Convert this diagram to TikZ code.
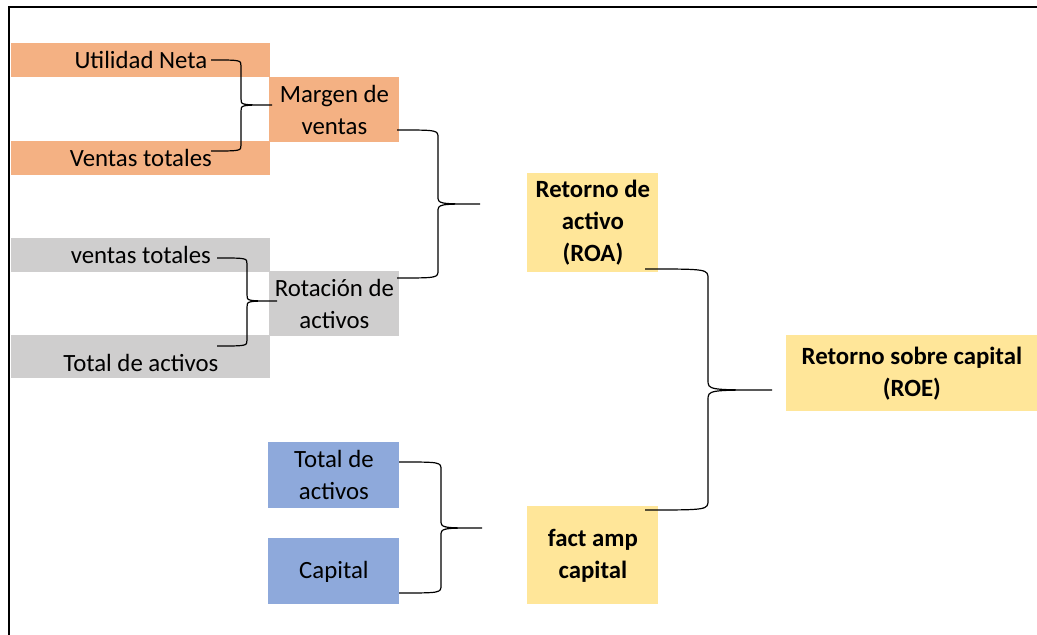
\documentclass[tikz,border=0pt]{standalone}
\usepackage{fontspec}
\setmainfont{Carlito}
\usetikzlibrary{calc}
\definecolor{boxorange}{HTML}{F4B183}
\definecolor{boxgrey}{HTML}{CFCECE}
\definecolor{boxblue}{HTML}{8EA9DB}
\definecolor{boxyellow}{HTML}{FFE699}

% curly bracket joining two items into one: [radius]{top end}{bottom end}{tip}{spine}
\newcommand\curlyjoin[5][8]{%
  \draw[conn] (#2) .. controls (#2 -| #5) .. ($(#2 -| #5)+(0,#1)$)
    -- ($(#4 -| #5)+(0,-#1)$) .. controls (#4 -| #5) .. (#4)
    .. controls (#4 -| #5) .. ($(#4 -| #5)+(0,#1)$)
    -- ($(#3 -| #5)+(0,-#1)$) .. controls (#3 -| #5) .. (#3);}

\begin{document}
\begin{tikzpicture}[x=0.5pt,y=-0.5pt,
  box/.style={anchor=north west, inner sep=0pt, align=center,
    font=\fontsize{12.4}{16}\selectfont},
  sz/.style 2 args={minimum width=#1*0.5pt, minimum height=#2*0.5pt},
  kpi/.style={box, fill=boxyellow, font=\fontsize{12.4}{16}\selectfont\bfseries},
  conn/.style={draw=black, line width=0.6pt},
  frame/.style={draw=black, line width=1pt}]
\useasboundingbox (0,0) rectangle (1037,635);
\fill[white] (0,0) rectangle (1037,635);

% outer frame (top and left edges)
\draw[frame] (1037,7) -- (8.5,7) -- (8.5,635);

% sales margin
\node[box, fill=boxorange, sz={259}{34}] (un) at (11,43) {Utilidad Neta};
\node[box, fill=boxorange, sz={259}{34}] (vt) at (11,141) {Ventas totales};
\node[box, fill=boxorange, sz={130}{65}] (mv) at (269,77) {Margen de\\ventas};

% asset turnover
\node[box, fill=boxgrey, sz={259}{34}] (vt2) at (11,238) {ventas totales};
\node[box, fill=boxgrey, sz={259}{43}, text height=1.45em] (ta) at (11,335) {Total de activos};
\node[box, fill=boxgrey, sz={130}{65}] (rot) at (269,271) {Rotación de\\activos};

% leverage
\node[box, fill=boxblue, sz={131}{66}] (tab) at (268,442) {Total de\\activos};
\node[box, fill=boxblue, sz={131}{66}] (cap) at (268,538) {Capital};

% ratios
\node[kpi, sz={131}{99}] (roa) at (527,173) {Retorno de\\activo\\(ROA)};
\node[kpi, sz={131}{98}] (fac) at (527,506) {fact amp\\capital};
\node[kpi, sz={251}{76}] (roe) at (786,335) {Retorno sobre capital\\(ROE)};

% bracket end points, tips and spines
\coordinate (b1t) at (211,60);  \coordinate (b1b) at (211,151);
\coordinate (b1x) at (272,105); \coordinate (b1s) at (241,0);
\coordinate (b2t) at (217,258); \coordinate (b2b) at (217,346);
\coordinate (b2x) at (277,301); \coordinate (b2s) at (247,0);
\coordinate (b3t) at (397,130); \coordinate (b3b) at (397,278);
\coordinate (b3x) at (480,204); \coordinate (b3s) at (438,0);
\coordinate (b4t) at (399,462); \coordinate (b4b) at (399,593);
\coordinate (b4x) at (482,528); \coordinate (b4s) at (441,0);
\coordinate (b5t) at (645,269); \coordinate (b5b) at (645,510);
\coordinate (b5x) at (772,390); \coordinate (b5s) at (708,0);

\curlyjoin[6]{b1t}{b1b}{b1x}{b1s}
\curlyjoin[6]{b2t}{b2b}{b2x}{b2s}
\curlyjoin[8]{b3t}{b3b}{b3x}{b3s}
\curlyjoin[8]{b4t}{b4b}{b4x}{b4s}
\curlyjoin[10]{b5t}{b5b}{b5x}{b5s}
\end{tikzpicture}
\end{document}
